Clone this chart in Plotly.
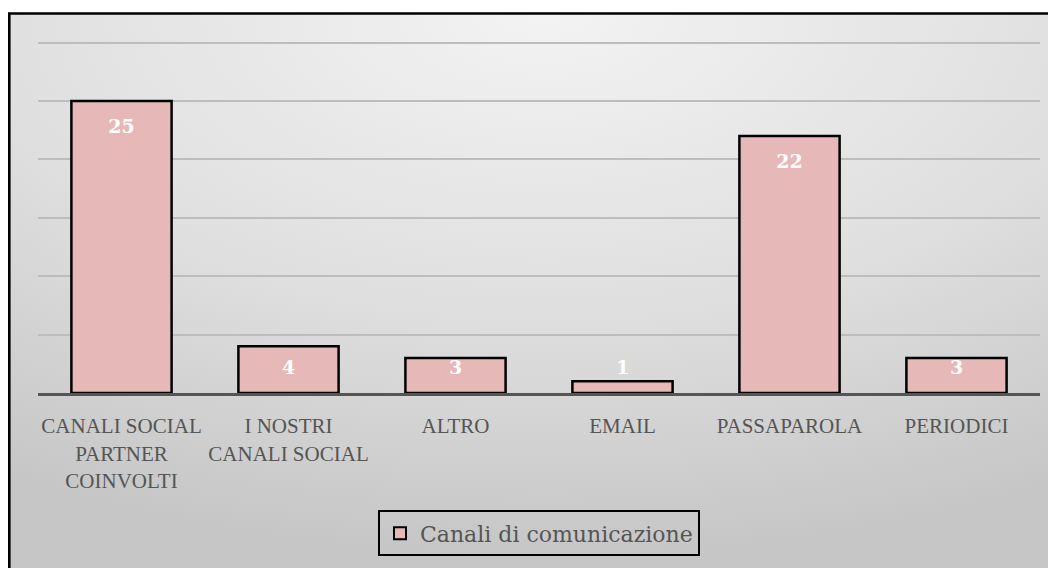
import base64
import plotly.graph_objects as go

categories = ["CANALI SOCIAL<br>PARTNER<br>COINVOLTI", "I NOSTRI<br>CANALI SOCIAL", "ALTRO",
              "EMAIL", "PASSAPAROLA", "PERIODICI"]
values = [25, 4, 3, 1, 22, 3]
series_name = "Canali di comunicazione"

TICK_FONT = "Liberation Serif"
FONT = "DejaVu Serif"
GRAY_TXT = "#555555"

# label placement derived from the values (inside end, kept readable for short bars)
label_y = [max(v - 2.3, 2.0) for v in values]

svg = """<svg xmlns='http://www.w3.org/2000/svg' width='1000' height='600' preserveAspectRatio='none'>
<defs><radialGradient id='g' cx='50%' cy='0%' r='95%' fx='50%' fy='0%'>
<stop offset='0' stop-color='#f3f3f3'/><stop offset='0.55' stop-color='#dfdfdf'/><stop offset='1' stop-color='#c6c6c6'/>
</radialGradient></defs><rect width='1000' height='600' fill='url(#g)'/></svg>"""
src = "data:image/svg+xml;base64," + base64.b64encode(svg.encode()).decode()

fig = go.Figure()
fig.add_trace(go.Bar(
    x=categories, y=values, name=series_name,
    marker=dict(color="#e6b9b8", line=dict(color="#000000", width=2.5)),
    width=0.6, showlegend=True,
))
fig.add_trace(go.Scatter(
    x=categories, y=label_y, mode="text", text=[str(v) for v in values],
    textposition="middle center",
    textfont=dict(family=FONT, size=19, color="white", weight="bold"),
    showlegend=False, hoverinfo="skip",
))

# the page shows the figure with an 8px offset, so size it to fill the rest
W, H = 1048, 560
L, R, T, B = 30, 16, 31, 173
pw, ph = W - L - R, H - T - B

def px2paper_x(px):
    return (px - L) / pw

def px2paper_y(py):
    return (H - B - py) / ph

fig.add_layout_image(dict(
    source=src, xref="paper", yref="paper",
    x=px2paper_x(1), y=px2paper_y(5),
    sizex=px2paper_x(1070) - px2paper_x(1), sizey=px2paper_y(5) - px2paper_y(580),
    xanchor="left", yanchor="top", sizing="stretch", layer="below",
))
fig.add_shape(type="rect", xref="paper", yref="paper",
              x0=px2paper_x(1.3), y0=px2paper_y(5.3), x1=px2paper_x(1080), y1=px2paper_y(600),
              line=dict(color="black", width=2.6), fillcolor="rgba(0,0,0,0)", layer="above")

fig.update_layout(
    width=W, height=H,
    margin=dict(l=L, r=R, t=T, b=B, pad=0),
    paper_bgcolor="white", plot_bgcolor="rgba(0,0,0,0)",
    font=dict(family=FONT, color=GRAY_TXT, size=18),
    bargap=0.4,
    legend=dict(
        orientation="h", x=0.5, xanchor="center", y=px2paper_y(505), yanchor="top",
        bordercolor="black", borderwidth=2, bgcolor="rgba(0,0,0,0)",
        font=dict(family=FONT, size=22, color=GRAY_TXT),
        itemsizing="constant",
    ),
    xaxis=dict(
        showgrid=False, showline=True, linecolor="#555555", linewidth=3,
        ticks="outside", ticklen=12, tickcolor="rgba(0,0,0,0)",
        tickfont=dict(family=TICK_FONT, size=21, color=GRAY_TXT),
        fixedrange=True,
    ),
    yaxis=dict(
        range=[0, 30.3], dtick=5, showgrid=True, gridcolor="#bdbdbd", gridwidth=2,
        zeroline=False, showticklabels=False, showline=False, fixedrange=True,
    ),
)

fig.write_html("out.html")
